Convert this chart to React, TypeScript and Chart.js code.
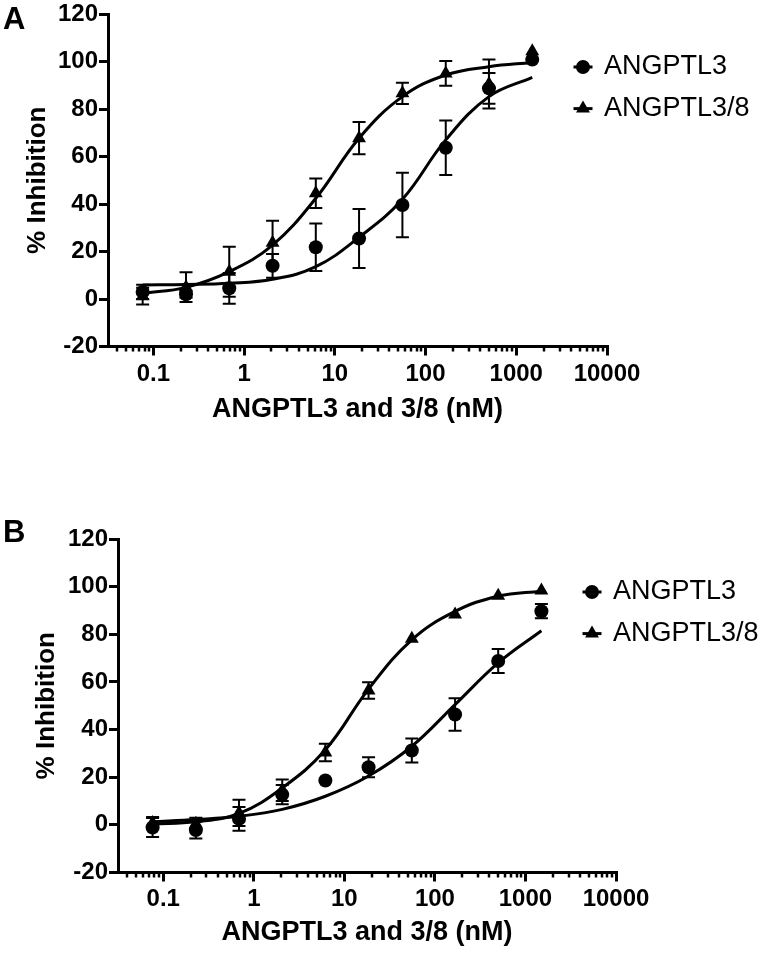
import React, { useEffect, useRef } from "react";
import { Chart, registerables } from "chart.js";

Chart.register(...registerables);

// ---------------- data ----------------
const concentrationsNM = [0.0762, 0.229, 0.686, 2.06, 6.17, 18.5, 55.6, 167, 500, 1500];

// Panel A (mean, SEM, fitted curve read at the same concentrations)
const panelA_ANGPTL3 = [3, 2, 4.5, 14, 21.8, 25.5, 39.6, 63.7, 88.7, 100.8];
const panelA_ANGPTL3_err = [3, 1.5, 6.5, 5, 10, 12.4, 13.6, 11.5, 6.5, 0];
const panelA_ANGPTL38 = [1.2, 5, 11.5, 23.7, 44.5, 67.7, 86.6, 95, 90.5, 104.3];
const panelA_ANGPTL38_err = [3.5, 6.3, 10.5, 9.3, 6.2, 6.8, 4.5, 5.2, 10.3, 0];
const panelA_ANGPTL3_fit = [5.9, 6.1, 6.6, 8.3, 13.6, 26, 42, 67, 85.2, 93.3];
const panelA_ANGPTL38_fit = [2.4, 4.9, 11.5, 22.7, 42.4, 67.7, 85.2, 94.3, 97.8, 99.6];

// Panel B
const panelB_ANGPTL3 = [-1.1, -2.2, 2.5, 12.7, 18.6, 24.2, 31.2, 46.3, 68.8, 89.7];
const panelB_ANGPTL3_err = [4, 3.5, 5, 4, 0, 4.2, 5, 6.8, 5, 3];
const panelB_ANGPTL38 = [0.8, 0.5, 5, 14.5, 30.4, 56.4, 78.1, 88.3, 96.2, 98.4];
const panelB_ANGPTL38_err = [2.5, 2.5, 5.5, 4.5, 3.7, 3.5, 0, 0, 0, 0];
const panelB_ANGPTL3_fit = [1.3, 2.2, 3.6, 6.5, 12, 20.5, 33, 50.5, 68, 81.5];
const panelB_ANGPTL38_fit = [0.4, 1.3, 4.8, 15.5, 31.5, 57, 77.7, 89.6, 96, 98.1];

const xTickValues = [0.1, 1, 10, 100, 1000, 10000];
const xTickLabels = ["0.1", "1", "10", "100", "1000", "10000"];
const yTickValues = [-20, 0, 20, 40, 60, 80, 100, 120];
const seriesNames = ["ANGPTL3", "ANGPTL3/8"];
const panelLetters = ["A", "B"];
const xAxisTitle = "ANGPTL3 and 3/8 (nM)";
const yAxisTitle = "% Inhibition";

const X_MIN = Math.pow(10, -1.5);
const X_MAX = 10000;
const Y_MIN = -20;
const Y_MAX = 120;

const FONT = "'Liberation Sans', Arial, Helvetica, sans-serif";

// ---------------- plugins ----------------
const errorBarPlugin = {
  id: "errorBars",
  beforeDatasetsDraw(chart: any) {
    const { ctx } = chart;
    const ys = chart.scales.y;
    chart.data.datasets.forEach((ds: any, di: number) => {
      const errs = ds.errors;
      if (!errs) return;
      const meta = chart.getDatasetMeta(di);
      meta.data.forEach((pt: any, i: number) => {
        const e = errs[i];
        if (!e) return;
        const v = ds.data[i].y;
        const x = pt.x;
        const yt = ys.getPixelForValue(v + e);
        const yb = ys.getPixelForValue(v - e);
        ctx.save();
        ctx.strokeStyle = "#000";
        ctx.lineWidth = 2;
        ctx.beginPath();
        ctx.moveTo(x, yt);
        ctx.lineTo(x, yb);
        ctx.moveTo(x - 6.5, yt);
        ctx.lineTo(x + 6.5, yt);
        ctx.moveTo(x - 6.5, yb);
        ctx.lineTo(x + 6.5, yb);
        ctx.stroke();
        ctx.restore();
      });
    });
  },
};

const minorTickPlugin = {
  id: "minorTicks",
  afterDraw(chart: any) {
    const xs = chart.scales.x;
    const { ctx, chartArea } = chart;
    ctx.save();
    ctx.strokeStyle = "#000";
    ctx.lineWidth = 2.5;
    for (let e = -2; e <= 4; e++) {
      for (let m = 2; m <= 9; m++) {
        const v = m * Math.pow(10, e);
        if (v < xs.min || v > xs.max) continue;
        const px = Math.round(xs.getPixelForValue(v));
        ctx.beginPath();
        ctx.moveTo(px, chartArea.bottom);
        ctx.lineTo(px, chartArea.bottom + 5);
        ctx.stroke();
      }
    }
    ctx.restore();
  },
};

const seriesLegendPlugin = {
  id: "seriesLegend",
  afterDraw(chart: any, _args: any, opts: any) {
    const { ctx, chartArea } = chart;
    const mx = chartArea.right + opts.dx;
    opts.entries.forEach((e: any, i: number) => {
      const y = chartArea.top + opts.dy + i * opts.rowGap;
      ctx.save();
      ctx.strokeStyle = "#000";
      ctx.fillStyle = "#000";
      ctx.lineWidth = 3;
      ctx.beginPath();
      ctx.moveTo(mx - 9.5, y);
      ctx.lineTo(mx + 9.5, y);
      ctx.stroke();
      ctx.beginPath();
      if (e.style === "circle") {
        ctx.arc(mx, y, 7, 0, Math.PI * 2);
      } else {
        const r = 8;
        ctx.moveTo(mx, y - r);
        ctx.lineTo(mx + r * Math.sin((2 * Math.PI) / 3), y - r * Math.cos((2 * Math.PI) / 3));
        ctx.lineTo(mx + r * Math.sin((4 * Math.PI) / 3), y - r * Math.cos((4 * Math.PI) / 3));
        ctx.closePath();
      }
      ctx.fill();
      ctx.font = `27px ${FONT}`;
      ctx.textBaseline = "middle";
      ctx.textAlign = "left";
      ctx.fillText(e.label, mx + 21, y);
      ctx.restore();
    });
  },
};

// ---------------- panel ----------------
type PanelCfg = {
  letter: string;
  canvasTop: number;
  height: number;
  areaTop: number;
  areaBottom: number;
  areaLeft: number;
  areaRight: number;
  xTickPad: number;
  xTitlePadBottom: number;
  yTitlePadTop: number;
  m3: number[];
  e3: number[];
  m38: number[];
  e38: number[];
  f3: number[];
  f38: number[];
};

const toPts = (ys: number[]) => concentrationsNM.map((x, i) => ({ x, y: ys[i] }));

function Panel({ cfg }: { cfg: PanelCfg }) {
  const ref = useRef<HTMLCanvasElement | null>(null);
  useEffect(() => {
    if (!ref.current) return;
    const padTop = cfg.areaTop - cfg.canvasTop;
    const xHeight = cfg.canvasTop + cfg.height - cfg.areaBottom;
    const chart = new Chart(ref.current, {
      type: "line",
      data: {
        datasets: [
          {
            label: seriesNames[0],
            data: toPts(cfg.m3),
            errors: cfg.e3,
            showLine: false,
            pointStyle: "circle",
            pointRadius: 7,
            pointBackgroundColor: "#000",
            pointBorderColor: "#000",
            pointBorderWidth: 0,
          } as any,
          {
            label: seriesNames[1],
            data: toPts(cfg.m38),
            errors: cfg.e38,
            showLine: false,
            pointStyle: "triangle",
            pointRadius: 8,
            pointBackgroundColor: "#000",
            pointBorderColor: "#000",
            pointBorderWidth: 0,
          } as any,
          {
            label: seriesNames[0] + " fit",
            data: toPts(cfg.f3),
            borderColor: "#000",
            borderWidth: 3,
            pointRadius: 0,
            tension: 0.4,
            fill: false,
          },
          {
            label: seriesNames[1] + " fit",
            data: toPts(cfg.f38),
            borderColor: "#000",
            borderWidth: 3,
            pointRadius: 0,
            tension: 0.4,
            fill: false,
          },
        ],
      },
      options: {
        responsive: false,
        animation: false,
        devicePixelRatio: 1,
        clip: false as any,
        layout: {
          padding: { top: padTop, left: 0, right: 762 - cfg.areaRight, bottom: 0 },
        },
        plugins: {
          legend: { display: false },
          tooltip: { enabled: false },
          seriesLegend: {
            dx: -24,
            dy: 53,
            rowGap: 41.6,
            entries: [
              { label: seriesNames[0], style: "circle" },
              { label: seriesNames[1], style: "triangle" },
            ],
          },
        } as any,
        scales: {
          x: {
            type: "logarithmic",
            position: "bottom",
            min: X_MIN,
            max: X_MAX,
            afterBuildTicks: (s: any) => {
              s.ticks = xTickValues.map((v) => ({ value: v, major: true }));
            },
            afterFit: (s: any) => {
              s.height = xHeight;
            },
            ticks: {
              autoSkip: false,
              maxRotation: 0,
              minRotation: 0,
              color: "#000",
              padding: cfg.xTickPad,
              font: { family: FONT, size: 24, weight: "bold" },
              callback: (v: any) => {
                const i = xTickValues.findIndex((t) => Math.abs(t - Number(v)) < 1e-9 * Math.max(1, t));
                return i >= 0 ? xTickLabels[i] : "";
              },
            },
            grid: {
              display: true,
              drawOnChartArea: false,
              drawTicks: true,
              tickLength: 9,
              lineWidth: 3,
              color: "#000",
            },
            border: { display: true, color: "#000", width: 3 },
            title: {
              display: true,
              text: xAxisTitle,
              color: "#000",
              font: { family: FONT, size: 27, weight: "bold" },
              padding: { top: 0, bottom: cfg.xTitlePadBottom },
            },
          } as any,
          y: {
            type: "linear",
            min: Y_MIN,
            max: Y_MAX,
            afterBuildTicks: (s: any) => {
              s.ticks = yTickValues.map((v) => ({ value: v }));
            },
            afterFit: (s: any) => {
              s.width = cfg.areaLeft;
            },
            ticks: {
              color: "#000",
              padding: 1,
              font: { family: FONT, size: 24, weight: "bold" },
            },
            grid: {
              display: true,
              drawOnChartArea: false,
              drawTicks: true,
              tickLength: 9,
              lineWidth: 3,
              color: "#000",
            },
            border: { display: true, color: "#000", width: 3 },
            title: {
              display: true,
              text: yAxisTitle,
              color: "#000",
              font: { family: FONT, size: 26, weight: "bold" },
              padding: { top: cfg.yTitlePadTop, bottom: 0 },
            },
          } as any,
        },
      },
      plugins: [errorBarPlugin, minorTickPlugin, seriesLegendPlugin],
    } as any);
    return () => chart.destroy();
  }, [cfg]);

  return (
    <>
      <canvas
        ref={ref}
        width={762}
        height={cfg.height}
        style={{ position: "absolute", left: 0, top: cfg.canvasTop, width: 762, height: cfg.height }}
      />
      <div
        style={{
          position: "absolute",
          left: 3,
          top: cfg.letter === "A" ? 3 : 516,
          fontFamily: FONT,
          fontWeight: "bold",
          fontSize: 31,
          lineHeight: 1,
          color: "#000",
        }}
      >
        {cfg.letter}
      </div>
    </>
  );
}

const panelA: PanelCfg = {
  letter: panelLetters[0],
  canvasTop: -20,
  height: 480,
  areaTop: 14,
  areaBottom: 346.5,
  areaLeft: 108,
  areaRight: 607,
  xTickPad: 4,
  xTitlePadBottom: 34,
  yTitlePadTop: 22,
  m3: panelA_ANGPTL3,
  e3: panelA_ANGPTL3_err,
  m38: panelA_ANGPTL38,
  e38: panelA_ANGPTL38_err,
  f3: panelA_ANGPTL3_fit,
  f38: panelA_ANGPTL38_fit,
};

const panelB: PanelCfg = {
  letter: panelLetters[1],
  canvasTop: 460,
  height: 493,
  areaTop: 539,
  areaBottom: 872.5,
  areaLeft: 118,
  areaRight: 616,
  xTickPad: 3,
  xTitlePadBottom: 4,
  yTitlePadTop: 31,
  m3: panelB_ANGPTL3,
  e3: panelB_ANGPTL3_err,
  m38: panelB_ANGPTL38,
  e38: panelB_ANGPTL38_err,
  f3: panelB_ANGPTL3_fit,
  f38: panelB_ANGPTL38_fit,
};

export default function App() {
  return (
    <div style={{ position: "absolute", left: 0, top: 0, width: 762, height: 953, background: "#fff", overflow: "hidden" }}>
      <Panel cfg={panelA} />
      <Panel cfg={panelB} />
    </div>
  );
}
